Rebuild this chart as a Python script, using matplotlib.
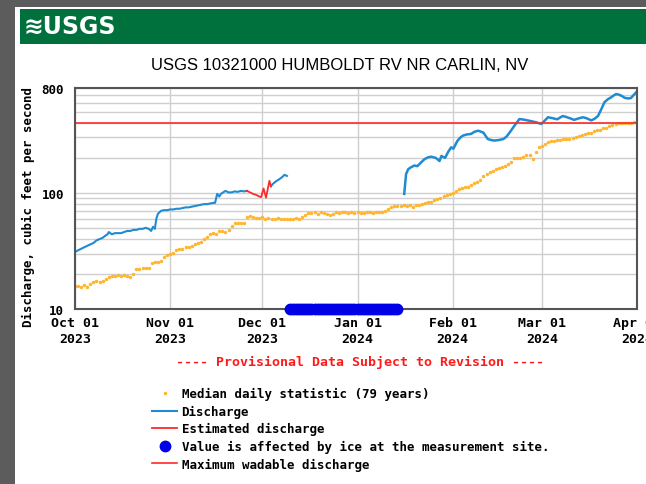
import matplotlib
matplotlib.use("Agg")
import matplotlib.pyplot as plt
import matplotlib.patches as patches
import numpy as np
import pandas as pd

# USGS 10321000 Humboldt Rv nr Carlin, NV -- discharge, Oct 2023 to Apr 2024
start = pd.Timestamp("2023-10-01")

# median daily statistic (79 years), one value per day from Oct 01
median_cfs = [
    15.7, 15.7, 15.5, 16, 15.6, 16.5, 17,
    17.5, 17, 17.5, 18, 19, 19.4, 19.4,
    19.5, 19.4, 19.6, 19.4, 19, 20, 22,
    22, 22.5, 22.7, 22.5, 25, 25.5, 25.5,
    26, 28, 29, 29.5, 30.5, 32, 33,
    33, 34, 34.5, 35, 36, 37, 38,
    40, 42, 44, 45, 44, 47, 47,
    46, 48, 52, 55, 55, 55, 55,
    62, 63, 62, 61, 61, 62, 60,
    61, 60, 59, 61, 60, 60, 59,
    60, 60, 61, 60, 62, 64, 67,
    67, 68, 66, 68, 67, 66, 65,
    66, 68, 67, 68, 68, 67, 68,
    67, 68, 67, 67, 68, 68, 67,
    68, 68, 69, 70, 72, 76, 77,
    77, 77, 78, 77, 78, 76, 78,
    79, 80, 82, 84, 84, 86, 88,
    90, 94, 95, 97, 100, 104, 107,
    110, 112, 113, 118, 122, 124, 128,
    141, 145, 150, 155, 160, 163, 166,
    172, 178, 185, 199, 200, 201, 205,
    210, 212, 195, 225, 247, 255, 262,
    275, 281, 282, 284, 287, 290, 292,
    292, 298, 305, 310, 318, 321, 325,
    330, 338, 345, 350, 360, 365, 375,
    385, 395, 398, 396, 400, 402, 400,
    404,
]

# discharge (days after Oct 01, cfs)
q1_day = [0, 1, 2, 3, 4, 5, 6, 7, 8, 9, 10, 10.6, 11, 12, 13, 14, 15, 16, 17, 18,
          19, 20, 21, 22, 23, 24, 24.8, 25.4, 26, 26.5, 27, 28, 29, 30, 31, 32, 33,
          34, 35, 36, 37, 38, 39, 40, 41, 42, 43, 44, 45, 45.6, 46.3, 47, 47.5, 48,
          49, 50, 51, 52, 53, 54, 55, 56]
q1_cfs = [31, 32, 33, 34, 35, 36, 37, 39, 40, 41, 43, 44, 46, 44, 45, 45, 45, 46, 47, 47,
          48, 48, 49, 49, 50, 49, 47, 51, 49, 60, 66, 70, 71, 71, 72, 72, 73,
          73, 74, 75, 75, 76, 77, 78, 79, 80, 80, 81, 82, 82, 98, 93, 98, 100,
          104, 101, 101, 103, 102, 104, 103, 104]

est_day = [56, 57, 58, 59, 60, 60.6, 61.4, 62.2, 63.3, 63.8]
est_cfs = [104, 101, 98, 96, 93, 92, 109, 91, 127, 114]

q2_day = [63.8, 64.5, 65.5, 66.5, 67.5, 68.2, 69]
q2_cfs = [114, 120, 126, 131, 137, 143, 140]

q3_day = [107.2, 107.8, 108.5, 109.4, 110.5, 111.5, 112.7, 113.8, 114.9, 116, 117.5,
          118.7, 119.3, 120.5, 121.5, 122.5, 123.2, 124.5, 125.5, 126.3, 127.5,
          129, 130, 131.2, 132, 133, 134.4, 135.5, 136.5, 138, 139.5, 140.5,
          141.5, 143.1, 144.7, 146, 147.5, 149, 150.2, 151.8, 153, 154, 155.5,
          157, 158.8, 160, 161.5, 162.5, 164, 165.4, 166.5, 168.1, 169.2, 170.3,
          171.3, 172.4, 173.5, 174.6, 175.4, 176.2, 177.2, 178.2, 178.9, 180,
          181, 182, 182.7]
q3_cfs = [98, 145, 160, 166, 172, 170, 183, 195, 202, 205, 200,
          188, 208, 200, 225, 247, 240, 280, 300, 311, 318,
          322, 335, 343, 338, 330, 291, 285, 282, 285, 291, 305,
          330, 379, 432, 428, 420, 412, 405, 392, 420, 448, 440,
          430, 459, 450, 436, 425, 438, 448, 440, 421, 435, 459,
          520, 603, 640, 665, 690, 710, 700, 680, 660, 650,
          655, 700, 734]

# days flagged as ice-affected
ice_day = list(range(70, 106))

max_wadable = 400

fig = plt.figure(figsize=(6.46, 4.85), dpi=100)
fig.patch.set_facecolor("#5c5c5c")

# white page and green banner
fig.patches.append(patches.Rectangle((15 / 646, 0), 1, 1 - 8 / 485, transform=fig.transFigure,
                                     facecolor="white", edgecolor="none", zorder=-10))
fig.patches.append(patches.Rectangle((20 / 646, 1 - 45 / 485), 1, 35 / 485, transform=fig.transFigure,
                                     facecolor="#00703c", edgecolor="none", zorder=-9))
fig.text(24 / 646, 1 - 27 / 485, "\u224bUSGS", color="white", fontsize=17, fontweight="bold",
         family="DejaVu Sans", va="center", ha="left")

fig.text(340 / 646, 1 - 65 / 485, "USGS 10321000 HUMBOLDT RV NR CARLIN, NV",
         fontsize=12, family="Liberation Sans", ha="center", va="center")

mono = {"family": "DejaVu Sans Mono", "fontweight": "bold"}

ax = fig.add_axes([75 / 646, 1 - 310 / 485, 562 / 646, 221 / 485])
ax.set_facecolor("white")
ax.set_yscale("log")


def to_dates(days):
    return start + pd.to_timedelta(np.array(days, dtype=float), unit="D")


med_dates = to_dates(range(len(median_cfs)))
h_med, = ax.plot(med_dates, median_cfs, linestyle="none", marker="o", markersize=2.5,
                 color="#ffb52e", markeredgewidth=0, label="Median daily statistic (79 years)")
h_q, = ax.plot(to_dates(q1_day), q1_cfs, color="#1f8bd2", lw=1.5, label="Discharge")
ax.plot(to_dates(q2_day), q2_cfs, color="#1f8bd2", lw=1.5)
ax.plot(to_dates(q3_day), q3_cfs, color="#1f8bd2", lw=1.8)
h_est, = ax.plot(to_dates(est_day), est_cfs, color="#ff2a2a", lw=1.3, label="Estimated discharge")
h_ice, = ax.plot(to_dates(ice_day), [10] * len(ice_day), linestyle="none", marker="o",
                 markersize=7.5, color="#0000e6", clip_on=False, zorder=5,
                 label="Value is affected by ice at the measurement site.")
h_max = ax.axhline(max_wadable, color="#ff2a2a", lw=1.2, label="Maximum wadable discharge")

ax.set_ylim(10, 800)
ax.set_xlim(start, pd.Timestamp("2024-04-01"))

ax.set_yticks([10, 100, 800])
ax.set_yticklabels(["10", "100", "800"], **mono, fontsize=9)
ax.set_yticks([20, 30, 40, 50, 60, 70, 80, 90, 200, 300, 400, 500, 600, 700], minor=True)
ax.yaxis.set_minor_formatter(matplotlib.ticker.NullFormatter())

months = pd.date_range("2023-10-01", "2024-04-01", freq="MS")
ax.set_xticks(months)
ax.set_xticklabels([d.strftime("%b %d\n%Y") for d in months], **mono, fontsize=9.5, linespacing=1.3)
ax.tick_params(which="both", length=0)
ax.tick_params(axis="x", pad=5)
ax.tick_params(axis="y", pad=8)
ax.grid(which="both", color="#cfcfcf", lw=1)
ax.set_axisbelow(True)
for s in ax.spines.values():
    s.set_color("#555555")
    s.set_linewidth(1.5)

fig.text(28 / 646, 1 - 207 / 485, "Discharge, cubic feet per second", rotation=90,
         ha="center", va="center", fontsize=9, **mono)

fig.text(360 / 646, 1 - 362 / 485, "---- Provisional Data Subject to Revision ----",
         color="#ff1a1a", ha="center", va="center", fontsize=9.5, **mono)

fig.legend(handles=[h_med, h_q, h_est, h_ice, h_max], loc="upper left",
           bbox_to_anchor=(146 / 646, 1 - 382 / 485), frameon=False, borderpad=0,
           handlelength=2.0, handletextpad=0.35, labelspacing=0.36,
           prop={"family": "DejaVu Sans Mono", "weight": "bold", "size": 9})

fig.savefig("out.png", dpi=100, facecolor=fig.get_facecolor())
